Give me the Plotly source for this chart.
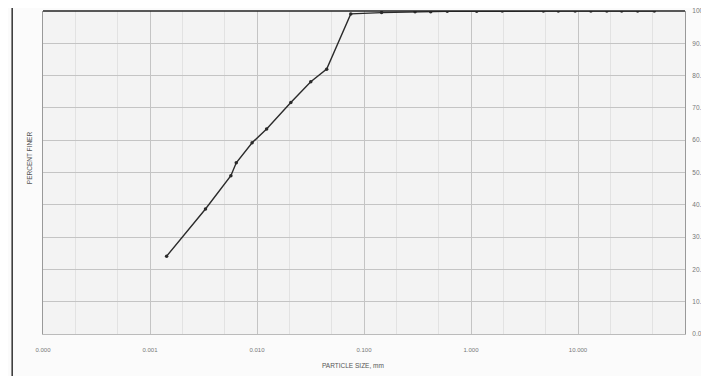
import plotly.graph_objects as go

particle_size_mm = [0.00143, 0.0033, 0.0057, 0.0064, 0.0090, 0.0123, 0.0207, 0.0318, 0.0448, 0.0752,
                    0.146, 0.30, 0.42, 0.60, 1.13, 1.96, 4.75, 6.55, 9.4, 13.2, 18.6, 25.6, 36.1, 51.7]
percent_finer = [24.1, 38.7, 49.0, 53.0, 59.2, 63.5, 71.7, 78.1, 82.0, 99.1,
                 99.5, 99.8, 99.8, 99.9, 99.9, 100.0, 100.0, 100.0, 100.0, 100.0, 100.0, 100.0, 100.0, 100.0]

x_tickvals = [0.0001, 0.001, 0.01, 0.1, 1, 10]
x_ticktext = ["0.000", "0.001", "0.010", "0.100", "1.000", "10.000"]
y_tickvals = [0, 10, 20, 30, 40, 50, 60, 70, 80, 90, 100]

fig = go.Figure()
fig.add_trace(go.Scatter(
    x=particle_size_mm, y=percent_finer, mode="lines+markers",
    line=dict(color="#2a2a2a", width=1.4),
    marker=dict(color="#2a2a2a", size=3.5),
    showlegend=False,
))

fig.update_layout(
    width=709, height=376,
    margin=dict(l=35, r=32, t=3, b=50, autoexpand=False),
    paper_bgcolor="#fbfbfb",
    plot_bgcolor="#f3f3f3",
    font=dict(family="Liberation Sans, Arial", color="#666666", size=6),
    xaxis=dict(
        type="log", range=[-4, 2], automargin=False,
        tickvals=x_tickvals, ticktext=x_ticktext,
        showgrid=True, gridcolor="#c4c4c4", gridwidth=1,
        minor=dict(showgrid=True, gridcolor="#e2e2e2", ticks=""),
        ticks="outside", ticklen=10, tickcolor="rgba(0,0,0,0)",
        tickfont=dict(size=6, color="#777777"),
        ticklabeloverflow="allow",
        showline=True, linecolor="#bbbbbb", mirror=False,
        zeroline=False,
    ),
    yaxis=dict(
        range=[0, 100], side="right", automargin=False,
        tickvals=y_tickvals, tickformat=".1f",
        showgrid=True, gridcolor="#c4c4c4", gridwidth=1,
        ticks="outside", ticklen=5, tickcolor="rgba(0,0,0,0)",
        tickfont=dict(size=6.5, color="#777777"),
        ticklabeloverflow="allow",
        showline=True, linecolor="#999999", mirror=True,
        zeroline=False,
    ),
    annotations=[
        dict(text="PARTICLE SIZE, mm", xref="paper", yref="paper", x=0.483, y=-0.096,
             xanchor="center", yanchor="middle", showarrow=False,
             font=dict(size=6.5, color="#555555")),
        dict(text="PERCENT FINER", xref="paper", yref="paper", x=-0.02, y=0.545,
             xanchor="center", yanchor="middle", textangle=-90, showarrow=False,
             font=dict(size=6.5, color="#555555")),
    ],
    shapes=[
        dict(type="line", xref="paper", yref="paper", x0=0, x1=1, y0=1, y1=1,
             line=dict(color="#222222", width=1.5)),
        dict(type="line", xref="paper", yref="paper", x0=-0.048, x1=-0.048, y0=-0.16, y1=1.03,
             line=dict(color="#333333", width=1.5)),
    ],
)

fig.write_html("out.html")
